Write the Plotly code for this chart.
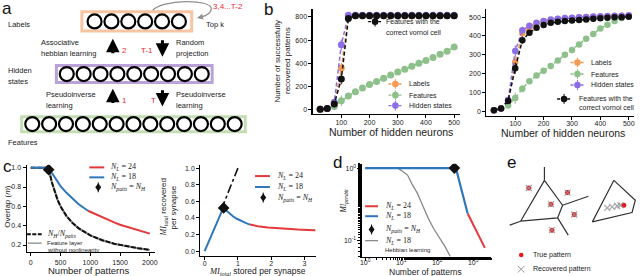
import plotly.graph_objects as go

W, H = 640, 276
SANS = "Liberation Sans, Arial, Helvetica, sans-serif"
SERIF = "Liberation Serif, DejaVu Serif, Times New Roman, serif"

# ---------------- data ----------------
# panel b : number of successfully recovered patterns vs number of hidden neurons
hidden_neurons = [25, 50, 75, 100, 125, 150, 175, 200, 225, 250, 275, 300, 325, 350, 375, 400, 425, 450, 475, 500]
b1_labels = [5, 12, 55, 360, 800, 810, 810, 810, 810, 810, 810, 810, 810, 810, 810, 810, 810, 810, 810, 810]
b1_features = [5, 12, 30, 78, 120, 155, 188, 218, 245, 272, 300, 325, 350, 375, 400, 425, 450, 478, 505, 540]
b1_hidden = [5, 12, 65, 560, 815, 815, 815, 815, 815, 815, 815, 815, 815, 815, 815, 815, 815, 815, 815, 815]
b1_voronoi = [5, 12, 50, 265, 785, 810, 810, 810, 810, 810, 810, 810, 810, 810, 810, 810, 810, 810, 810, 810]
b1_err = [3, 5, 15, 45, 25, 0, 0, 0, 0, 0, 0, 0, 0, 0, 0, 0, 0, 0, 0, 0]

b2_labels = [5, 15, 58, 260, 415, 445, 468, 478, 485, 490, 493, 496, 498, 500, 502, 504, 505, 506, 507, 508]
b2_features = [5, 15, 30, 70, 120, 160, 190, 215, 240, 270, 300, 325, 355, 385, 410, 440, 460, 480, 495, 505]
b2_hidden = [5, 15, 60, 320, 430, 455, 470, 480, 487, 492, 495, 497, 499, 501, 503, 505, 506, 507, 508, 510]
b2_voronoi = [5, 15, 55, 229, 377, 417, 444, 458, 470, 475, 479, 482, 485, 488, 491, 494, 497, 499, 500, 502]
b2_err = [3, 5, 12, 30, 20, 10, 8, 6, 5, 5, 5, 5, 5, 5, 5, 5, 5, 5, 5, 5]

# panel c (left): overlap vs number of patterns
c1_patterns_18 = [0, 100, 200, 300, 350, 400, 450, 500, 600, 700, 800, 900, 960]
c1_overlap_18 = [1.0, 1.0, 1.0, 1.0, 0.95, 0.90, 0.855, 0.81, 0.74, 0.68, 0.625, 0.58, 0.555]
c1_patterns_24 = [960, 1100, 1250, 1400, 1500, 1750, 2000]
c1_overlap_24 = [0.555, 0.515, 0.47, 0.435, 0.41, 0.36, 0.318]
c1_patterns_ratio = [0, 100, 200, 300, 350, 400, 450, 500, 600, 700, 800, 1000, 1200, 1400, 1600, 1800, 2000]
c1_ratio = [1.0, 1.0, 1.0, 1.0, 0.857, 0.75, 0.667, 0.6, 0.5, 0.429, 0.375, 0.3, 0.25, 0.214, 0.1875, 0.167, 0.15]
c1_linear = [1.0, 1.0, 1.0, 1.0, 0.857, 0.75, 0.667, 0.6, 0.5, 0.429, 0.375, 0.3, 0.25, 0.214, 0.1875, 0.167, 0.15]
c1_nh_point = [300]
c1_nh_overlap = [0.98]

# panel c (right): MI recovered vs MI stored per synapse
c2_stored_18 = [0, 0.57, 0.65, 0.75, 0.85, 0.97, 1.1, 1.23, 1.36]
c2_recov_18 = [0, 0.53, 0.49, 0.455, 0.42, 0.39, 0.36, 0.34, 0.32]
c2_stored_24 = [1.36, 1.6, 1.9, 2.2, 2.5, 2.8, 3.1, 3.33]
c2_recov_24 = [0.32, 0.30, 0.285, 0.275, 0.267, 0.26, 0.255, 0.252]
c2_identity = [0.5, 1.0]
c2_nh_point = [0.57]
c2_nh_value = [0.52]

# panel d: MI per bit vs number of patterns (log-log)
d_patterns_18 = [1, 10, 100, 330, 400, 500, 600, 700]
d_mi_18 = [1, 1, 1, 1, 0.69, 0.45, 0.315, 0.235]
d_patterns_24 = [700, 1000, 1400, 2100]
d_mi_24 = [0.235, 0.165, 0.118, 0.079]
d_patterns_hebb = [1, 7.8, 10, 12, 15, 20, 28, 40, 57, 80, 120, 170, 230]
d_mi_hebb = [1, 1, 0.93, 0.87, 0.8, 0.6, 0.45, 0.3, 0.2, 0.145, 0.105, 0.08, 0.06]
d_nh_point = [300]
d_nh_value = [1.0]

# panel e: voronoi sketch
e_edges_x = [546.7, 546.7, None, 546.7, 522.7, 560, 565, 546.7, None, 565, 591, None, 560, 570.7, None,
             522.7, 511.7, None, 616.7, 638.3, 635, 595, 616.7]
e_edges_y = [166.7, 180, None, 180, 221, 217.7, 205, 180, None, 205, 196, None, 217.7, 235, None,
             221, 225, None, 180, 200, 212.3, 221.7, 180]
e_true_x = [531, 570, 553.3, 576.7, 554.3, 626.7]
e_true_y = [187.7, 192.3, 204, 214.3, 230, 205]
e_rec_x = [531, 570, 553.3, 576.7, 554.3, 610, 615, 620, 623.3]
e_rec_y = [187.7, 192.3, 204, 214.3, 230, 207.7, 206.7, 205.7, 205]

# panel a: layer sizes
a_layer_sizes = [6, 9, 13]

ORANGE = '#F39A55'
GREEN = '#8DC08A'
PURPLE = '#8C6FE6'
BLACK = '#111111'
RED = '#E5383B'
BLUE = '#2F77BC'
GRAY = '#8A8A8A'

shapes, annos = [], []


def P(x):
    return x / W


def Q(y):
    return 1 - y / H


def text(x, y, s, size=7.5, color='#222222', xanchor='left', family=SANS, angle=0, yanchor='middle'):
    annos.append(dict(x=P(x), y=Q(y), xref='paper', yref='paper', text=s, showarrow=False,
                      xanchor=xanchor, yanchor=yanchor, textangle=angle, borderpad=0,
                      font=dict(size=size, color=color, family=family)))


def leg_line(x0, x1, y, color, dash='solid', width=1.5):
    shapes.append(dict(type='line', xref='paper', yref='paper', x0=P(x0), x1=P(x1), y0=Q(y), y1=Q(y),
                       line=dict(color=color, width=width, dash=dash)))


def leg_vline(x, y0, y1, color, width=1):
    shapes.append(dict(type='line', xref='paper', yref='paper', x0=P(x), x1=P(x), y0=Q(y0), y1=Q(y1),
                       line=dict(color=color, width=width)))


def leg_dot(cx, cy, r, color):
    shapes.append(dict(type='circle', xref='paper', yref='paper', x0=P(cx - r), x1=P(cx + r),
                       y0=Q(cy + r), y1=Q(cy - r), fillcolor=color, line=dict(width=0)))


def leg_diamond(cx, cy, w, h, color):
    path = (f"M {P(cx)},{Q(cy - h)} L {P(cx + w)},{Q(cy)} L {P(cx)},{Q(cy + h)} "
            f"L {P(cx - w)},{Q(cy)} Z")
    shapes.append(dict(type='path', xref='paper', yref='paper', path=path, fillcolor=color,
                       line=dict(width=0)))


def b_sample(cx, y, color):
    leg_line(cx - 7, cx + 7, y, color, dash='3px,2px', width=1.4)
    leg_vline(cx, y - 5, y + 5, color, 1)
    leg_dot(cx, y, 3.3, color)


fig = go.Figure()

# ---------------- panel a ----------------
a_rows_y = [20.5, 73.3, 123.5]
a_centers = [135.8, 133.3, 132.5]
for n, yc, xc in zip(a_layer_sizes, a_rows_y, a_centers):
    xs = [xc + 17 * (i - (n - 1) / 2) for i in range(n)]
    fig.add_trace(go.Scatter(x=xs, y=[yc] * n, mode='markers', xaxis='x', yaxis='y',
                             marker=dict(symbol='circle', size=14, color='white',
                                         line=dict(color='black', width=2.2)),
                             showlegend=False, hoverinfo='skip'))
box_style = [((80.5, 10.8, 191.2, 30.2), '#F8C4A2'),
             ((54.8, 64.8, 211.8, 81.8), '#B9A2D9'),
             ((19.8, 116.2, 245.2, 131.2), '#C4DEB3')]
for (x0, y0, x1, y1), col in box_style:
    shapes.append(dict(type='rect', xref='x', yref='y', x0=x0, x1=x1, y0=y0, y1=y1,
                       line=dict(color=col, width=3), layer='below'))
# curved recurrent arrow
shapes.append(dict(type='path', xref='x', yref='y',
                   path="M 152,9.5 C 160,-1.5 212,-2.5 211,8 Q 210,14 201,16",
                   line=dict(color='#8f8f8f', width=1.2)))
annos.append(dict(x=196.5, y=17, ax=202, ay=15.8, xref='x', yref='y', axref='x', ayref='y',
                  showarrow=True, arrowhead=2, arrowsize=1, arrowwidth=1.2, arrowcolor='#8f8f8f', text=''))
# thick arrows
for (xa, y_tail, y_tip) in [(111.7, 54, 38), (161.7, 38, 56), (111.7, 104, 88), (161.7, 88, 106)]:
    annos.append(dict(x=xa, y=y_tip, ax=xa, ay=y_tail, xref='x', yref='y', axref='x', ayref='y',
                      showarrow=True, arrowhead=2, arrowsize=0.9, arrowwidth=3, arrowcolor='black', text=''))

text(5, 23.5, "Labels", 7.5)
text(5, 69.5, "Hidden", 7.5)
text(5, 80.5, "states", 7.5)
text(5, 142.5, "Features", 7.5)
text(38.5, 41.5, "Associative", 7.5)
text(38.5, 52.5, "hebbian learning", 7.5)
text(174.5, 41.5, "Random", 7.5)
text(174.5, 52.5, "projection", 7.5)
text(43.5, 93.5, "Pseudoinverse", 7.5)
text(43.5, 105, "learning", 7.5)
text(174.5, 93.5, "Pseudoinverse", 7.5)
text(174.5, 105, "learning", 7.5)
text(119.5, 49.5, "2", 8, color='#F0282D')
text(139.5, 49.5, "T-1", 8, color='#F0282D')
text(119.5, 99.5, "1", 8, color='#F0282D')
text(149, 99.5, "T", 8, color='#F0282D')
text(211.5, 6, "3,4...T-2", 8, color='#F0282D')
text(204.5, 23.5, "Top k", 7.5)

# ---------------- panel b ----------------
for (xa, ya, lab, fe, hi, vo, err, ms) in [('x2', 'y2', b1_labels, b1_features, b1_hidden, b1_voronoi, b1_err, 7),
                                           ('x3', 'y3', b2_labels, b2_features, b2_hidden, b2_voronoi, b2_err, 6.5)]:
    for ys, col in [(fe, GREEN), (lab, ORANGE), (hi, PURPLE), (vo, BLACK)]:
        fig.add_trace(go.Scatter(x=hidden_neurons, y=ys, xaxis=xa, yaxis=ya, mode='lines+markers',
                                 line=dict(color=col, width=1.5, dash='4px,2.5px'),
                                 marker=dict(color=col, size=ms),
                                 error_y=dict(type='data', array=err, color=col, thickness=1, width=0),
                                 showlegend=False, hoverinfo='skip'))

b_sample(376, 20.7, BLACK)
text(386.5, 20.7, "Features with the", 7)
text(386.5, 31.7, "correct vornoi cell", 7)
b_sample(396.5, 83.3, ORANGE)
text(409.5, 83.3, "Labels", 7)
b_sample(396.5, 94.5, GREEN)
text(409.5, 94.5, "Features", 7)
b_sample(396.5, 105, PURPLE)
text(409.5, 105, "Hidden states", 7)

b_sample(580, 61.7, ORANGE)
text(592.5, 61.7, "Labels", 7)
b_sample(580, 73.3, GREEN)
text(592.5, 73.3, "Features", 7)
b_sample(580, 84.3, PURPLE)
text(592.5, 84.3, "Hidden states", 7)
b_sample(566.5, 98.3, BLACK)
text(580.5, 98.3, "Features with the", 7)
text(580.5, 106.7, "correct vornoi cell", 7)

text(278, 60, "Number of successfully", 8, xanchor='center', angle=-90)
text(288.5, 60, "recovered patterns", 8, xanchor='center', angle=-90)
text(392, 131.5, "Number of hidden neurons", 10.5, xanchor='center')
text(565, 132, "Number of hidden neurons", 10.5, xanchor='center')

# ---------------- panel c (left) ----------------
fig.add_trace(go.Scatter(x=c1_patterns_ratio, y=c1_linear, xaxis='x4', yaxis='y4', mode='lines',
                         line=dict(color=GRAY, width=2), showlegend=False, hoverinfo='skip'))
fig.add_trace(go.Scatter(x=c1_patterns_ratio, y=c1_ratio, xaxis='x4', yaxis='y4', mode='lines',
                         line=dict(color=BLACK, width=2, dash='5px,1.5px'), showlegend=False, hoverinfo='skip'))
fig.add_trace(go.Scatter(x=c1_patterns_24, y=c1_overlap_24, xaxis='x4', yaxis='y4', mode='lines',
                         line=dict(color=RED, width=2), showlegend=False, hoverinfo='skip'))
fig.add_trace(go.Scatter(x=c1_patterns_18, y=c1_overlap_18, xaxis='x4', yaxis='y4', mode='lines',
                         line=dict(color=BLUE, width=2), showlegend=False, hoverinfo='skip'))
fig.add_trace(go.Scatter(x=c1_nh_point, y=c1_nh_overlap, xaxis='x4', yaxis='y4', mode='markers',
                         marker=dict(symbol='diamond', size=9, color=BLACK),
                         error_y=dict(type='constant', value=0.035, color=BLACK, thickness=1, width=0),
                         showlegend=False, hoverinfo='skip'))

leg_line(88, 103, 167, RED, width=2)
text(108, 167, "<i>N<sub>L</sub></i> = 24", 8, family=SERIF)
leg_line(88, 103, 177, BLUE, width=2)
text(108, 177, "<i>N<sub>L</sub></i> = 18", 8, family=SERIF)
leg_diamond(97, 187, 3, 4.2, BLACK)
leg_vline(97, 182, 192, BLACK, 1)
text(108, 187, "<i>N<sub>patts</sub></i> = <i>N<sub>H</sub></i>", 8, family=SERIF)
leg_line(25, 40, 234, BLACK, dash='4px,1.5px', width=2)
text(44.5, 234, "<i>N<sub>H</sub></i>/<i>N<sub>patts</sub></i>", 8, family=SERIF)
leg_line(26, 40, 243, GRAY, width=1.3)
text(44.5, 242.7, "Feature layer", 6)
text(44.5, 250.3, "without nonlinearity", 6)

text(5.5, 206, "Overlap (<i>m</i>)", 8, xanchor='center', angle=-90)
text(88, 270, "Number of patterns", 9.5, xanchor='center')

# ---------------- panel c (right) ----------------
fig.add_trace(go.Scatter(x=c2_identity, y=c2_identity, xaxis='x5', yaxis='y5', mode='lines',
                         line=dict(color=BLACK, width=1.6, dash='dashdot'), showlegend=False, hoverinfo='skip'))
fig.add_trace(go.Scatter(x=c2_stored_24, y=c2_recov_24, xaxis='x5', yaxis='y5', mode='lines',
                         line=dict(color=RED, width=2), showlegend=False, hoverinfo='skip'))
fig.add_trace(go.Scatter(x=c2_stored_18, y=c2_recov_18, xaxis='x5', yaxis='y5', mode='lines',
                         line=dict(color=BLUE, width=2), showlegend=False, hoverinfo='skip'))
fig.add_trace(go.Scatter(x=c2_nh_point, y=c2_nh_value, xaxis='x5', yaxis='y5', mode='markers',
                         marker=dict(symbol='diamond', size=9, color=BLACK),
                         error_y=dict(type='constant', value=0.04, color=BLACK, thickness=1, width=0),
                         showlegend=False, hoverinfo='skip'))

leg_line(255, 270, 175.7, RED, width=2)
text(276, 175.7, "<i>N<sub>L</sub></i> = 24", 8, family=SERIF)
leg_line(255, 270, 186.7, BLUE, width=2)
text(276, 186.7, "<i>N<sub>L</sub></i> = 18", 8, family=SERIF)
leg_diamond(263.3, 197.3, 3, 4.2, BLACK)
leg_vline(263.3, 192.3, 202.3, BLACK, 1)
text(276, 197.3, "<i>N<sub>patts</sub></i> = <i>N<sub>H</sub></i>", 8, family=SERIF)

text(163.5, 207, "<span style='font-family:Liberation Serif'><i>MI<sub>total</sub></i></span> recovered",
     8, xanchor='center', angle=-90)
text(172.5, 207, "per synapse", 8, xanchor='center', angle=-90)
text(258, 271.5, "<span style='font-family:Liberation Serif'><i>MI<sub>total</sub></i></span> stored per synapse",
     8.5, xanchor='center')

# ---------------- panel d ----------------
fig.add_trace(go.Scatter(x=d_patterns_hebb, y=d_mi_hebb, xaxis='x6', yaxis='y6', mode='lines',
                         line=dict(color=GRAY, width=1.3), showlegend=False, hoverinfo='skip'))
fig.add_trace(go.Scatter(x=d_patterns_24, y=d_mi_24, xaxis='x6', yaxis='y6', mode='lines',
                         line=dict(color=RED, width=2), showlegend=False, hoverinfo='skip'))
fig.add_trace(go.Scatter(x=d_patterns_18, y=d_mi_18, xaxis='x6', yaxis='y6', mode='lines',
                         line=dict(color=BLUE, width=2.2), showlegend=False, hoverinfo='skip'))
fig.add_trace(go.Scatter(x=d_nh_point, y=d_nh_value, xaxis='x6', yaxis='y6', mode='markers',
                         marker=dict(symbol='diamond', size=9, color=BLACK),
                         error_y=dict(type='percent', value=10, color=BLACK, thickness=1, width=0),
                         showlegend=False, hoverinfo='skip'))

leg_line(366, 379, 206, RED, width=2)
text(385, 206, "<i>N<sub>L</sub></i> = 24", 8, family=SERIF)
leg_line(366, 379, 216, BLUE, width=2)
text(385, 216, "<i>N<sub>L</sub></i> = 18", 8, family=SERIF)
leg_diamond(372.5, 229.3, 3, 4.2, BLACK)
leg_vline(372.5, 224.3, 234.3, BLACK, 1)
text(385, 229.3, "<i>N<sub>patts</sub></i> = <i>N<sub>H</sub></i>", 8, family=SERIF)
leg_line(366, 379, 240.5, GRAY, width=1.3)
text(385, 240.5, "<i>N<sub>L</sub></i> = 18", 8, family=SERIF)
text(385, 250, "Hebbian learning", 6)
text(345, 201, "<i>MI<sub>persbit</sub></i>", 7.5, xanchor='center', angle=-90, family=SERIF)
text(427, 271.5, "Number of patterns", 8.5, xanchor='center')

# ---------------- panel e ----------------
fig.add_trace(go.Scatter(x=e_edges_x, y=e_edges_y, xaxis='x7', yaxis='y7', mode='lines',
                         line=dict(color='#333333', width=1.2), showlegend=False, hoverinfo='skip'))
fig.add_trace(go.Scatter(x=e_true_x, y=e_true_y, xaxis='x7', yaxis='y7', mode='markers',
                         marker=dict(symbol='circle', size=5, color='#E8171B'), showlegend=False, hoverinfo='skip'))
fig.add_trace(go.Scatter(x=e_rec_x, y=e_rec_y, xaxis='x7', yaxis='y7', mode='markers',
                         marker=dict(symbol='x-thin', size=6, color='rgba(150,150,150,0.85)',
                                     line=dict(color='rgba(150,150,150,0.85)', width=1.2)),
                         showlegend=False, hoverinfo='skip'))
leg_dot(523.3, 255, 2.3, '#E8171B')
shapes.append(dict(type='line', xref='paper', yref='paper', x0=P(520), x1=P(526.5), y0=Q(266), y1=Q(272.5),
                   line=dict(color='#999999', width=1)))
shapes.append(dict(type='line', xref='paper', yref='paper', x0=P(520), x1=P(526.5), y0=Q(272.5), y1=Q(266),
                   line=dict(color='#999999', width=1)))
text(534, 255, "True pattern", 7)
text(534, 269.3, "Recovered pattern", 7)

# ---------------- panel letters ----------------
text(5, 7.5, "a", 17, xanchor='center', color='#111111')
text(268.5, 8.5, "b", 17, xanchor='center', color='#111111')
text(6, 166, "c", 17, xanchor='center', color='#111111')
text(338.5, 162.5, "d", 17, xanchor='center', color='#111111')
text(513.5, 162.5, "e", 17, xanchor='center', color='#111111')

# ---------------- axes ----------------
TICKFONT = dict(size=7, family=SANS, color='#222222')


def real_axis(dom_px, rng, horizontal, anchor, **kw):
    if horizontal:
        domain = [dom_px[0] / W, dom_px[1] / W]
    else:
        domain = [1 - dom_px[1] / H, 1 - dom_px[0] / H]
    d = dict(domain=domain, range=rng, anchor=anchor, showline=True, linecolor='black', linewidth=1.1,
             ticks='outside', ticklen=3, tickwidth=1, tickcolor='black', tickfont=TICKFONT,
             showgrid=False, zeroline=False, fixedrange=True)
    d.update(kw)
    return d


def canvas_axis(dom_px, rng, horizontal, anchor):
    if horizontal:
        domain = [dom_px[0] / W, dom_px[1] / W]
    else:
        domain = [1 - dom_px[1] / H, 1 - dom_px[0] / H]
    return dict(domain=domain, range=rng, anchor=anchor, visible=False, fixedrange=True,
                showgrid=False, zeroline=False)


minor_log = dict(ticks='outside', ticklen=2, tickcolor='black', showgrid=False)

fig.update_layout(
    width=W, height=H, margin=dict(l=0, r=0, t=0, b=0),
    paper_bgcolor='white', plot_bgcolor='rgba(0,0,0,0)',
    font=dict(family=SANS, color='#222222'),
    showlegend=False,
    xaxis=canvas_axis((0, 260), [0, 260], True, 'y'),
    yaxis=canvas_axis((0, 150), [150, 0], False, 'x'),
    xaxis2=real_axis((313, 461.4), [-2, 520], True, 'y2', tickvals=[100, 200, 300, 400, 500],
                     ticklabelstandoff=-1),
    yaxis2=real_axis((8, 113), [-32, 868], False, 'x2', tickvals=[0, 200, 400, 600, 800]),
    xaxis3=real_axis((488.1, 637.4), [-2, 520], True, 'y3', tickvals=[100, 200, 300, 400, 500],
                     ticklabelstandoff=-2),
    yaxis3=real_axis((8.1, 115), [-23, 543], False, 'x3', tickvals=[0, 100, 200, 300, 400, 500]),
    xaxis4=real_axis((24.8, 153.8), [-70, 2080], True, 'y4', tickvals=[0, 500, 1000, 1500, 2000]),
    yaxis4=real_axis((164.4, 252.3), [0.124, 1.03], False, 'x4', tickvals=[0.2, 0.4, 0.6, 0.8, 1.0],
                     tickformat='.1f'),
    xaxis5=real_axis((199.9, 316.5), [-0.13, 3.35], True, 'y5', tickvals=[0, 1, 2, 3],
                     ticklabelstandoff=-2),
    yaxis5=real_axis((164.4, 255.7), [-0.056, 1.04], False, 'x5', tickvals=[0, 0.2, 0.4, 0.6, 0.8, 1.0],
                     tickformat='.1f'),
    xaxis6=real_axis((362.4, 493.1), [-0.1, 3.5], True, 'y6', type='log', tickvals=[1, 10, 100, 1000],
                     ticktext=['10<sup>0</sup>', '10<sup>1</sup>', '10<sup>2</sup>', '10<sup>3</sup>'],
                     minor=minor_log, ticklabelstandoff=-4),
    yaxis6=real_axis((163.3, 256.7), [-1.226, 0.06], False, 'x6', type='log', tickvals=[0.1, 1],
                     ticktext=['10<sup>-1</sup>', '10<sup>0</sup>'], minor=minor_log),
    xaxis7=canvas_axis((500, 640), [500, 640], True, 'y7'),
    yaxis7=canvas_axis((150, 276), [276, 150], False, 'x7'),
    shapes=shapes,
    annotations=annos,
)

fig.write_html("out.html", config={'displayModeBar': False, 'staticPlot': True},
               post_script="document.body.style.margin='0px';document.body.style.overflow='hidden';")
